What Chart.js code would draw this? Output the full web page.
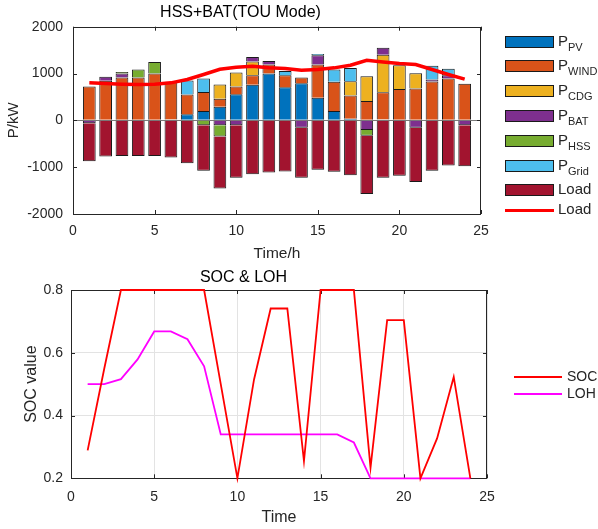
<!DOCTYPE html>
<html>
<head>
<meta charset="utf-8">
<script src="https://cdn.jsdelivr.net/npm/chart.js@4.4.1/dist/chart.umd.min.js"></script>
<style>
  body { margin: 0; background: #fff; font-family: 'Liberation Sans', Arial, sans-serif; color: #262626; }
  #wrap { position: relative; width: 598px; height: 529px; overflow: hidden; }
  canvas { position: absolute; left: 0; }
  .leg { position: absolute; left: 505px; font-size: 15px; line-height: 16px; white-space: nowrap; }
  .leg .sw { display: inline-block; width: 47px; height: 10px; border: 1px solid #1a1a1a; vertical-align: middle; margin-right: 4px; }
  .leg .ln { display: inline-block; width: 49px; height: 3px; vertical-align: middle; margin-right: 4px; }
  .leg sub { font-size: 11px; vertical-align: -5px; }
  .leg2 { position: absolute; left: 514px; font-size: 14px; line-height: 16px; white-space: nowrap; }
  .leg2 .ln { display: inline-block; width: 48px; height: 2px; vertical-align: middle; margin-right: 5px; }
</style>
</head>
<body>
<div id="wrap">
  <canvas id="chart1" width="598" height="265" style="top:0"></canvas>
  <canvas id="chart2" width="598" height="269" style="top:260px"></canvas>

  <div class="leg" style="top:33px"><span class="sw" style="background:#0072BD"></span>P<sub>PV</sub></div>
  <div class="leg" style="top:57px"><span class="sw" style="background:#D95319"></span>P<sub>WIND</sub></div>
  <div class="leg" style="top:82px"><span class="sw" style="background:#EDB120"></span>P<sub>CDG</sub></div>
  <div class="leg" style="top:107px"><span class="sw" style="background:#7E2F8E"></span>P<sub>BAT</sub></div>
  <div class="leg" style="top:132px"><span class="sw" style="background:#77AC30"></span>P<sub>HSS</sub></div>
  <div class="leg" style="top:157px"><span class="sw" style="background:#4DBEEE"></span>P<sub>Grid</sub></div>
  <div class="leg" style="top:181px"><span class="sw" style="background:#A2142F"></span>Load</div>
  <div class="leg" style="top:201px"><span class="ln" style="background:#ff0000"></span>Load</div>

  <div class="leg2" style="top:368px"><span class="ln" style="background:#ff0000"></span>SOC</div>
  <div class="leg2" style="top:385px"><span class="ln" style="background:#ff00ff"></span>LOH</div>
</div>

<script>
// DATOS
const horas = [1, 2, 3, 4, 5, 6, 7, 8, 9, 10, 11, 12, 13, 14, 15, 16, 17, 18, 19, 20, 21, 22, 23, 24];

const pPV   = [0, 0, 0, 0, 0, 20, 128, 199, 291, 560, 759, 1000, 709, 794, 482, 199, 35, 14, 20, 0, 0, 0, 0, 0];
const pWind = [723, 844, 915, 915, 1000, 803, 425, 404, 170, 163, 206, 191, 255, 121, 709, 624, 496, 397, 582, 667, 681, 830, 894, 780];
const pCDG  = [0, 0, 0, 0, 0, 0, 0, 0, 305, 298, 291, 0, 0, 0, 0, 0, 305, 532, 801, 511, 326, 0, 0, 0];
const pBAT  = [-64, 85, 85, 0, 0, 0, 0, 0, -106, -106, 99, 78, 0, -156, 199, 0, 0, -206, 149, 0, -156, 43, 71, -106];
const pHSS  = [0, 0, 35, 170, 248, 0, 0, -106, -241, 0, 0, 0, 0, 0, 0, 0, 0, -121, 0, 0, 0, 0, 0, 0];
const pGrid = [0, 0, 0, 0, 0, 0, 298, 291, 0, 0, 0, 0, 90, 0, 28, 262, 284, 0, 0, 0, 0, 291, 135, 0];
const pLoad = [-808, -773, -759, -759, -759, -794, -915, -972, -1107, -1121, -1149, -1113, -1092, -1071, -1057, -1099, -1170, -1247, -1227, -1184, -1163, -1078, -965, -873];
const curvaLoad = [801, 787, 773, 766, 773, 801, 872, 979, 1092, 1135, 1156, 1121, 1106, 1071, 1085, 1121, 1177, 1284, 1248, 1213, 1191, 1085, 979, 879];

const soc = [0.289, 0.55, 0.8, 0.8, 0.8, 0.8, 0.8, 0.8, 0.5, 0.2, 0.515, 0.741, 0.741, 0.255, 0.8, 0.8, 0.8, 0.234, 0.704, 0.704, 0.2, 0.327, 0.523, 0.2];
const loh = [0.5, 0.5, 0.516, 0.579, 0.668, 0.668, 0.643, 0.557, 0.34, 0.34, 0.34, 0.34, 0.34, 0.34, 0.34, 0.34, 0.314, 0.2, 0.2, 0.2, 0.2, 0.2, 0.2, 0.2];

const ticksX = [0, 5, 10, 15, 20, 25];
const ticksP = [-2000, -1000, 0, 1000, 2000];
const ticksSOC = [0.2, 0.4, 0.6, 0.8];

Chart.defaults.font.family = "'Liberation Sans', Arial, sans-serif";
Chart.defaults.color = '#262626';

const pares = (arr) => arr.map((v, i) => ({ x: horas[i], y: v }));
const fijarTicks = (lista) => (scale) => { scale.ticks = lista.map(v => ({ value: v })); };

// caja estilo matlab con ticks hacia dentro (debajo de las series)
const cajaPlugin = {
  id: 'caja',
  beforeDatasetsDraw(chart) {
    const { ctx, chartArea: a, scales } = chart;
    ctx.save();
    ctx.strokeStyle = '#262626';
    ctx.lineWidth = 1;
    ctx.strokeRect(Math.round(a.left) + 0.5, Math.round(a.top) + 0.5, Math.round(a.width) - 1, Math.round(a.height));
    ctx.beginPath();
    scales.x.ticks.forEach(t => {
      const px = Math.round(scales.x.getPixelForValue(t.value)) + 0.5;
      ctx.moveTo(px, a.bottom); ctx.lineTo(px, a.bottom - 4);
      ctx.moveTo(px, a.top); ctx.lineTo(px, a.top + 4);
    });
    scales.y.ticks.forEach(t => {
      const py = Math.round(scales.y.getPixelForValue(t.value)) + 0.5;
      ctx.moveTo(a.left, py); ctx.lineTo(a.left + 4, py);
      ctx.moveTo(a.right, py); ctx.lineTo(a.right - 4, py);
    });
    ctx.stroke();
    ctx.restore();
  }
};

const barra = (label, data, color) => ({
  type: 'bar', label, data: pares(data), backgroundColor: color,
  borderColor: '#1a1a1a', borderWidth: 1, stack: 'p',
  barPercentage: 0.78, categoryPercentage: 1
});

// GRAFICO 1
const ctx1 = document.getElementById('chart1').getContext('2d');
new Chart(ctx1, {
  type: 'bar',
  data: {
    datasets: [
      { type: 'line', label: 'Load', data: pares(curvaLoad), borderColor: '#ff0000', borderWidth: 3.5,
        pointRadius: 0, fill: false, stack: 'curva', order: -1 },
      barra('PPV', pPV, '#0072BD'),
      barra('PWIND', pWind, '#D95319'),
      barra('PCDG', pCDG, '#EDB120'),
      barra('PBAT', pBAT, '#7E2F8E'),
      barra('PHSS', pHSS, '#77AC30'),
      barra('PGrid', pGrid, '#4DBEEE'),
      barra('Load', pLoad, '#A2142F')
    ]
  },
  options: {
    responsive: false,
    animation: false,
    layout: { padding: { left: 0, right: 117, top: 0, bottom: 0 } },
    plugins: {
      legend: { display: false },
      tooltip: { enabled: false },
      title: { display: true, text: 'HSS+BAT(TOU Mode)', color: '#000', font: { size: 16, weight: 'normal' },
               padding: { top: 3, bottom: 4.5 } }
    },
    scales: {
      x: {
        type: 'linear', min: 0, max: 25, stacked: true, offset: false,
        grid: { display: false, drawTicks: false, offset: false },
        border: { display: false },
        afterBuildTicks: fijarTicks(ticksX),
        afterFit: (s) => { s.height = 51; },
        ticks: { font: { size: 14 }, padding: 9, maxRotation: 0 },
        title: { display: true, text: 'Time/h', font: { size: 15.5 }, padding: { top: 0, bottom: 2.4 } }
      },
      y: {
        min: -2000, max: 2000, stacked: true,
        grid: { drawTicks: false, color: (c) => (c.tick && c.tick.value === 0) ? '#7a7a7a' : 'transparent' },
        border: { display: false },
        afterBuildTicks: fijarTicks(ticksP),
        afterFit: (s) => { s.width = 73; },
        ticks: { font: { size: 14 }, padding: 10, callback: (v) => String(v) },
        title: { display: true, text: 'P/kW', font: { size: 15 }, padding: { top: 4.4, bottom: 0 } }
      }
    }
  },
  plugins: [cajaPlugin]
});

// GRAFICO 2
const ctx2 = document.getElementById('chart2').getContext('2d');
new Chart(ctx2, {
  type: 'line',
  data: {
    datasets: [
      { label: 'SOC', data: pares(soc), borderColor: '#ff0000', borderWidth: 1.8, pointRadius: 0, fill: false, clip: false },
      { label: 'LOH', data: pares(loh), borderColor: '#ff00ff', borderWidth: 1.8, pointRadius: 0, fill: false, clip: false }
    ]
  },
  options: {
    responsive: false,
    animation: false,
    layout: { padding: { left: 0, right: 111, top: 0, bottom: 0 } },
    plugins: {
      legend: { display: false },
      tooltip: { enabled: false },
      title: { display: true, text: 'SOC & LOH', color: '#000', font: { size: 16, weight: 'normal' },
               padding: { top: 8.4, bottom: 2.4 } }
    },
    scales: {
      x: {
        type: 'linear', min: 0, max: 25,
        grid: { drawTicks: false, color: '#e3e3e3' },
        border: { display: false },
        afterBuildTicks: fijarTicks(ticksX),
        afterFit: (s) => { s.height = 50.7; },
        ticks: { font: { size: 14 }, padding: 10, maxRotation: 0 },
        title: { display: true, text: 'Time', font: { size: 16 }, padding: { top: 0, bottom: 1.4 } }
      },
      y: {
        min: 0.2, max: 0.8,
        grid: { drawTicks: false, color: '#e3e3e3' },
        border: { display: false },
        afterBuildTicks: fijarTicks(ticksSOC),
        afterFit: (s) => { s.width = 71; },
        ticks: { font: { size: 14 }, padding: 8, callback: (v) => v.toFixed(1) },
        title: { display: true, text: 'SOC value', font: { size: 16 }, padding: { top: 22.4, bottom: 0 } }
      }
    }
  },
  plugins: [cajaPlugin]
});
</script>
</body>
</html>
